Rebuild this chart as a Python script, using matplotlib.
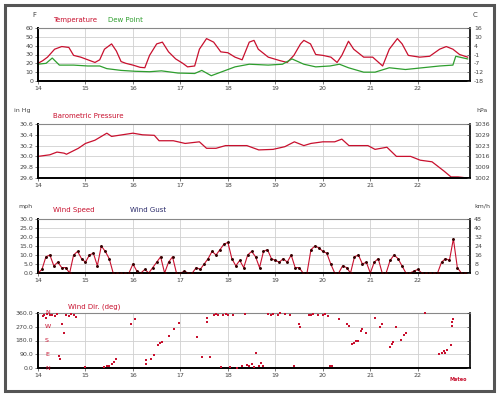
import matplotlib
matplotlib.use('Agg')
import matplotlib.pyplot as plt
from matplotlib.patches import Rectangle
import numpy as np

# temperature / dew point (F)
temp_t = [14.0, 14.1, 14.2, 14.35, 14.5, 14.65, 14.75, 14.9, 15.0, 15.2, 15.3, 15.4, 15.55, 15.65, 15.75, 15.85,
          16.0, 16.15, 16.25, 16.35, 16.5, 16.62, 16.75, 16.9, 17.05, 17.15, 17.3, 17.4, 17.55, 17.7, 17.85,
          18.0, 18.15, 18.3, 18.45, 18.55, 18.64, 18.85, 19.1, 19.25, 19.39, 19.53, 19.6, 19.74, 19.85,
          20.0, 20.17, 20.3, 20.4, 20.54, 20.65, 20.86, 21.05, 21.26, 21.4, 21.57, 21.67, 21.8,
          22.04, 22.25, 22.46, 22.6, 22.74, 22.88, 23.05]
temp_f = [20, 23, 27, 36, 39, 38, 29, 27, 25, 21, 24, 36, 42, 34, 22, 20,
          18, 15.5, 15, 29, 42, 44, 33, 25, 20, 16, 17, 36, 48, 44, 33,
          32, 27, 24, 44, 46, 36, 27, 23, 21, 29, 42, 46, 42, 30,
          29, 27, 21, 29, 45, 36, 27, 27, 17, 36, 48, 42, 29,
          27, 28, 36, 39, 36, 30, 27]
dew_t = [14.0, 14.17, 14.3, 14.45, 14.75, 15.05, 15.3, 15.45, 15.75, 16.05, 16.35, 16.6, 16.95,
         17.3, 17.45, 17.65, 17.85, 18.15, 18.45, 18.85, 19.15, 19.35, 19.6, 19.85,
         20.15, 20.35, 20.54, 20.86, 21.1, 21.4, 21.74, 22.1, 22.46, 22.74, 22.8, 23.05]
dew_f = [19, 20, 26, 18, 18, 17, 17, 14, 12, 11, 10.5, 11.5, 9,
         8.5, 12, 6, 10, 16, 19, 18, 19, 25, 19, 16,
         17, 19, 15, 10, 10, 15, 13, 15, 17, 18, 28, 25]

# pressure (inHg)
pres_t = [14.0, 14.25, 14.4, 14.55, 14.6, 14.85, 15.0, 15.2, 15.45, 15.55, 15.7, 16.0, 16.2, 16.45, 16.55,
          16.85, 17.1, 17.4, 17.55, 17.75, 17.95, 18.4, 18.65, 18.95, 19.2, 19.4, 19.6, 19.75, 20.0, 20.25,
          20.4, 20.55, 20.95, 21.1, 21.35, 21.55, 21.85, 22.05, 22.3, 22.55, 22.7, 22.85, 23.05]
pres_in = [30.0, 30.03, 30.08, 30.06, 30.04, 30.15, 30.24, 30.3, 30.43, 30.37, 30.39, 30.43, 30.4, 30.39, 30.29,
           30.29, 30.24, 30.27, 30.15, 30.15, 30.2, 30.2, 30.12, 30.13, 30.18, 30.27, 30.2, 30.24, 30.27, 30.27,
           30.32, 30.2, 30.2, 30.13, 30.17, 30.0, 30.0, 29.93, 29.9, 29.73, 29.62, 29.62, 29.6]

# wind speed (mph), every 2 hours from day 14
wind_mph = [0, 2, 9, 10, 4, 6, 3, 3, 0, 10, 12, 8,
            6, 10, 11, 4, 15, 12, 8, 0, 0, 0, 0, 0,
            5, 1, 0, 2, 0, 3, 6, 9, 0, 6, 9, 0,
            0, 1, 0, 0, 3, 2, 5, 8, 12, 10, 13, 16,
            17, 8, 4, 7, 3, 10, 12, 9, 3, 12, 13, 8,
            7, 6, 8, 6, 10, 3, 3, 0, 0, 13, 15, 14,
            12, 11, 5, 0, 0, 4, 3, 0, 9, 10, 5, 6,
            0, 6, 8, 0, 0, 7, 10, 8, 4, 0, 0, 1,
            2, 0, 0, 0, 0, 0, 6, 8, 7, 19, 3, 0,
            0]

# wind direction (deg)
dir_t = [14.1, 14.13, 14.17, 14.2, 14.25, 14.3, 14.35, 14.4, 14.45, 14.47, 14.5, 14.55, 14.6, 14.65, 14.7,
         14.75, 14.8, 15.0, 15.4, 15.45, 15.5, 15.55, 15.6, 15.65, 15.95, 16.05, 16.27, 16.28, 16.38, 16.45,
         16.52, 16.58, 16.62, 16.76, 16.86, 16.97, 17.35, 17.45, 17.55, 17.57, 17.62, 17.7, 17.75, 17.8, 17.85,
         17.9, 17.95, 18.0, 18.05, 18.1, 18.2, 18.3, 18.35, 18.4, 18.45, 18.5, 18.55, 18.6, 18.65, 18.7,
         18.75, 18.85, 18.9, 18.95, 19.05, 19.1, 19.2, 19.3, 19.4, 19.5, 19.52, 19.7, 19.75, 19.8, 19.9,
         20.0, 20.05, 20.1, 20.15, 20.2, 20.35, 20.5, 20.55, 20.62, 20.65, 20.7, 20.75, 20.8, 20.82, 20.9,
         21.1, 21.2, 21.25, 21.42, 21.45, 21.48, 21.55, 21.65, 21.7, 21.75, 22.15, 22.45, 22.5, 22.55, 22.58,
         22.62, 22.7, 22.72, 22.73, 22.75]
dir_deg = [340, 350, 330, 355, 345, 350, 340, 355, 80, 60, 285, 230, 350, 340, 355,
           345, 335, 5, 5, 10, 15, 25, 40, 60, 290, 320, 50, 25, 60, 85,
           150, 165, 170, 210, 255, 295, 205, 70, 300, 330, 75, 345, 355, 350, 5,
           345, 355, 350, 5, 345, 0, 15, 355, 20, 10, 25, 5, 95, 15, 30,
           10, 355, 345, 355, 350, 360, 355, 345, 15, 290, 270, 350, 345, 355, 350,
           345, 355, 340, 10, 15, 320, 290, 275, 155, 165, 175, 180, 240, 255, 230,
           330, 270, 290, 140, 160, 170, 270, 185, 215, 230, 360, 90, 100, 110, 95,
           120, 150, 300, 275, 320]

days = [14, 15, 16, 17, 18, 19, 20, 21, 22]
f_ticks = [0, 10, 20, 30, 40, 50, 60]
c_labels = ['-18', '-12', '-7', '-1', '4', '10', '16']
in_ticks = [29.6, 29.8, 30.0, 30.2, 30.4, 30.6]
hpa_labels = ['1002', '1009', '1016', '1023', '1029', '1036']
mph_ticks = [0, 5, 10, 15, 20, 25, 30]
kmh_labels = ['0', '8', '16', '24', '32', '40', '48']
deg_ticks = [0, 90, 180, 270, 360]
compass = ['N', 'E', 'S', 'W', 'N']

W, H = 497, 394
fig = plt.figure(figsize=(W / 100, H / 100), dpi=100)
fig.patch.set_facecolor('white')

RED = '#c8102e'
GREEN = '#2e9e2e'
GRID = '#d0d0d0'
TXT = '#444444'
FS = 4.5


def px(x, y):
    return x / W, 1 - y / H


def make_ax(top, bottom, ylim, yticks, ylabels, rlabels):
    x0, y0 = px(38, bottom)
    ax = fig.add_axes([x0, y0, (470 - 38) / W, (bottom - top) / H])
    ax.set_xlim(14, 23.1)
    ax.set_ylim(*ylim)
    ax.set_xticks(days)
    ax.set_xticklabels([str(d) for d in days])
    ax.set_yticks(yticks)
    ax.set_yticklabels(ylabels)
    ax.grid(True, color=GRID, lw=0.6)
    ax.tick_params(labelsize=FS, colors=TXT, length=2, width=0.5, pad=1.5)
    ax.spines['top'].set_color('#888888')
    ax.spines['top'].set_linewidth(0.8)
    for s in ['bottom', 'left']:
        ax.spines[s].set_color('black')
        ax.spines[s].set_linewidth(1.4)
    ax.spines['right'].set_color('black')
    ax.spines['right'].set_linewidth(1.2)
    ax2 = ax.twinx()
    ax2.set_ylim(*ylim)
    ax2.set_yticks(yticks)
    ax2.set_yticklabels(rlabels)
    ax2.tick_params(labelsize=FS, colors=TXT, length=2, width=0.5, pad=3, direction='in')
    for s in ax2.spines.values():
        s.set_visible(False)
    return ax


# temperature
ax1 = make_ax(28, 81, (0, 60), f_ticks, [str(v) for v in f_ticks], c_labels)
ax1.plot(temp_t, temp_f, color=RED, lw=0.9)
ax1.plot(dew_t, dew_f, color=GREEN, lw=0.9)
fig.text(*px(32, 17), 'F', fontsize=5, color=TXT)
fig.text(*px(473, 17), 'C', fontsize=5, color=TXT)
fig.text(*px(53, 22), 'Temperature', fontsize=5, color=RED)
fig.text(*px(108, 22), 'Dew Point', fontsize=5, color=GREEN)

# pressure
ax2 = make_ax(124, 178, (29.6, 30.6), in_ticks, ['%.1f' % v for v in in_ticks], hpa_labels)
ax2.plot(pres_t, pres_in, color=RED, lw=0.9)
fig.text(*px(14, 112), 'in Hg', fontsize=4.5, color=TXT)
fig.text(*px(476, 112), 'hPa', fontsize=4.5, color=TXT)
fig.text(*px(53, 118), 'Barometric Pressure', fontsize=5, color=RED)

# wind speed
ax3 = make_ax(219, 273, (0, 30), mph_ticks, ['%.1f' % v for v in mph_ticks], kmh_labels)
wind_t = np.arange(len(wind_mph)) / 12 + 14
ax3.plot(wind_t, wind_mph, color=RED, lw=0.8)
ax3.scatter(wind_t, wind_mph, s=1.2, color='#330000', zorder=3)
fig.text(*px(18, 208), 'mph', fontsize=4.5, color=TXT)
fig.text(*px(474, 208), 'km/h', fontsize=4.5, color=TXT)
fig.text(*px(53, 212), 'Wind Speed', fontsize=5, color=RED)
fig.text(*px(130, 212), 'Wind Gust', fontsize=5, color='#2a2a6a')

# wind direction
ax4 = make_ax(313, 368, (0, 360), deg_ticks, ['%.1f' % v for v in deg_ticks], ['' for v in deg_ticks])
ax4.scatter(dir_t, dir_deg, s=4, marker='s', color=RED, lw=0, zorder=3, clip_on=False)
for v, c in zip(deg_ticks, compass):
    ax4.text(14.15, v, c, fontsize=4.5, color=RED, va='center', ha='left')
fig.text(*px(68, 309), 'Wind Dir. (deg)', fontsize=5, color=RED)
fig.text(*px(450, 381), 'Meteo', fontsize=3.5, color=RED, weight='bold')

# outer frame
fig.patches.append(Rectangle((5 / W, 3 / H), 489 / W, 386 / H, transform=fig.transFigure,
                             fill=False, edgecolor='#555555', lw=2.2))

plt.savefig('out.png', dpi=100)
